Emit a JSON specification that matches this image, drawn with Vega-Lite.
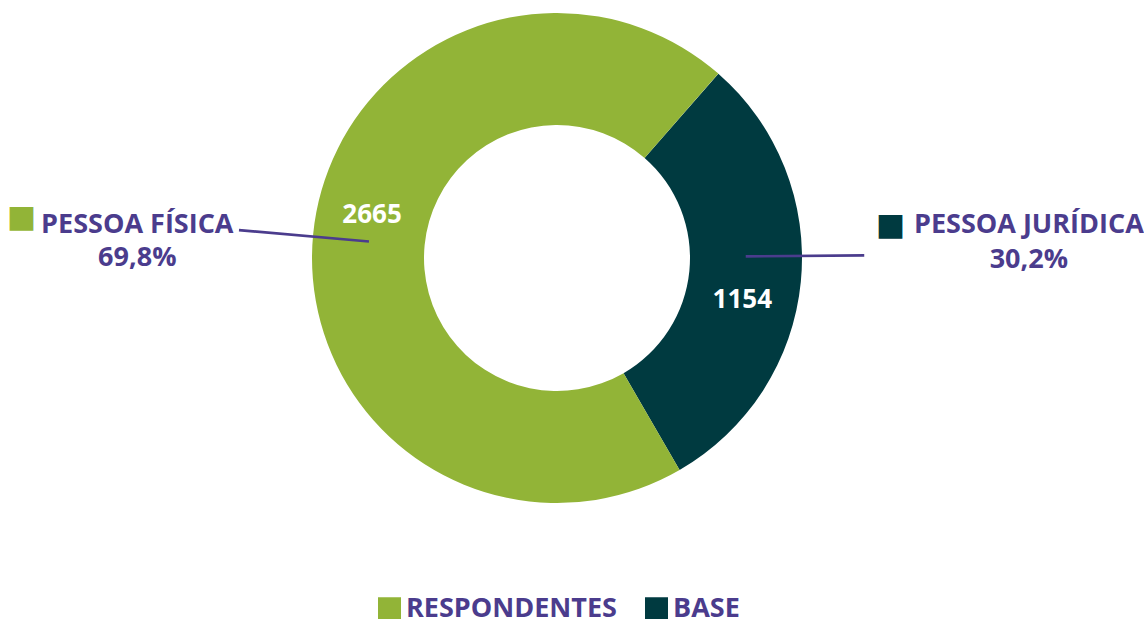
{
  "$schema": "https://vega.github.io/schema/vega-lite/v6.json",
  "width": 1114,
  "height": 516,
  "padding": 0,
  "background": "white",
  "config": {"view": {"stroke": null}, "text": {"font": "Open Sans"}},
  "data": {
    "values": [
      {"categoria": "PESSOA JURÍDICA", "legenda": "BASE", "valor": 1154, "rotulo": "PESSOA JURÍDICA\n30,2%"},
      {"categoria": "PESSOA FÍSICA", "legenda": "RESPONDENTES", "valor": 2665, "rotulo": "PESSOA FÍSICA\n69,8%"}
    ]
  },
  "transform": [
    {"stack": "valor", "groupby": [], "sort": [{"field": "valor", "order": "ascending"}], "as": ["v0", "v1"]}
  ],
  "layer": [
    {
      "mark": {"type": "arc", "outerRadius": 245, "innerRadius": 133},
      "encoding": {
        "theta": {"field": "v0", "type": "quantitative", "stack": null, "scale": {"domain": [0, 3819], "range": [0.719, 7.002], "nice": false, "zero": true}},
        "theta2": {"field": "v1"},
        "color": {
          "field": "legenda",
          "type": "nominal",
          "scale": {"domain": ["RESPONDENTES", "BASE"], "range": ["#92B437", "#003A40"]},
          "legend": {
            "title": null,
            "orient": "none",
            "legendX": 376,
            "legendY": 595,
            "direction": "horizontal",
            "symbolType": "square",
            "symbolSize": 529,
            "symbolStrokeWidth": 0,
            "symbolOpacity": 1,
            "labelFont": "Open Sans",
            "labelFontSize": 27,
            "labelFontWeight": "bold",
            "labelColor": "#4B3C8D",
            "labelOffset": 3,
            "columnPadding": 26,
            "padding": 0,
            "labelLimit": 400
          }
        }
      }
    },
    {
      "transform": [{"filter": "datum.categoria === 'PESSOA FÍSICA'"}],
      "layer": [
        {
          "mark": {"type": "text", "radius": 190, "thetaOffset": 2.3254, "fontSize": 26, "fontWeight": "bold", "color": "#FFFFFF", "align": "center", "baseline": "middle"},
          "encoding": {"theta": {"field": "v0", "type": "quantitative", "stack": null}, "text": {"field": "valor", "type": "quantitative", "format": "d"}}
        },
        {
          "mark": {"type": "text", "radius": 421, "thetaOffset": 2.173, "fontSize": 27, "fontWeight": "bold", "color": "#4B3C8D", "align": "center", "baseline": "middle", "lineBreak": "\n", "lineHeight": 33},
          "encoding": {"theta": {"field": "v0", "type": "quantitative", "stack": null}, "text": {"field": "rotulo", "type": "nominal"}}
        },
        {
          "mark": {"type": "text", "radius": 537, "thetaOffset": 2.1699, "fontSize": 31, "font": "DejaVu Sans", "color": "#92B437", "align": "center", "baseline": "middle", "text": "■"},
          "encoding": {"theta": {"field": "v0", "type": "quantitative", "stack": null}}
        },
        {
          "mark": {"type": "arc", "radius": 318, "radius2": 190, "thetaOffset": 2.1821, "theta2Offset": 2.1826, "fill": "white", "fillOpacity": 0, "stroke": "#4B3C8D", "strokeWidth": 2.5},
          "encoding": {"theta": {"field": "v0", "type": "quantitative", "stack": null}, "theta2": {"field": "v0"}}
        }
      ]
    },
    {
      "transform": [{"filter": "datum.categoria === 'PESSOA JURÍDICA'"}],
      "layer": [
        {
          "mark": {"type": "text", "radius": 190, "thetaOffset": 1.0752, "fontSize": 26, "fontWeight": "bold", "color": "#FFFFFF", "align": "center", "baseline": "middle"},
          "encoding": {"theta": {"field": "v0", "type": "quantitative", "stack": null}, "text": {"field": "valor", "type": "quantitative", "format": "d"}}
        },
        {
          "mark": {"type": "text", "radius": 473, "thetaOffset": 0.782, "fontSize": 27, "fontWeight": "bold", "color": "#4B3C8D", "align": "center", "baseline": "middle", "lineBreak": "\n", "lineHeight": 35},
          "encoding": {"theta": {"field": "v0", "type": "quantitative", "stack": null}, "text": {"field": "rotulo", "type": "nominal"}}
        },
        {
          "mark": {"type": "text", "radius": 335, "thetaOffset": 0.7558, "fontSize": 31, "font": "DejaVu Sans", "color": "#003A40", "align": "center", "baseline": "middle", "text": "■"},
          "encoding": {"theta": {"field": "v0", "type": "quantitative", "stack": null}}
        },
        {
          "mark": {"type": "arc", "radius": 306, "radius2": 190, "thetaOffset": 0.8431, "theta2Offset": 0.8436, "fill": "white", "fillOpacity": 0, "stroke": "#4B3C8D", "strokeWidth": 2.5},
          "encoding": {"theta": {"field": "v0", "type": "quantitative", "stack": null}, "theta2": {"field": "v0"}}
        }
      ]
    }
  ]
}
